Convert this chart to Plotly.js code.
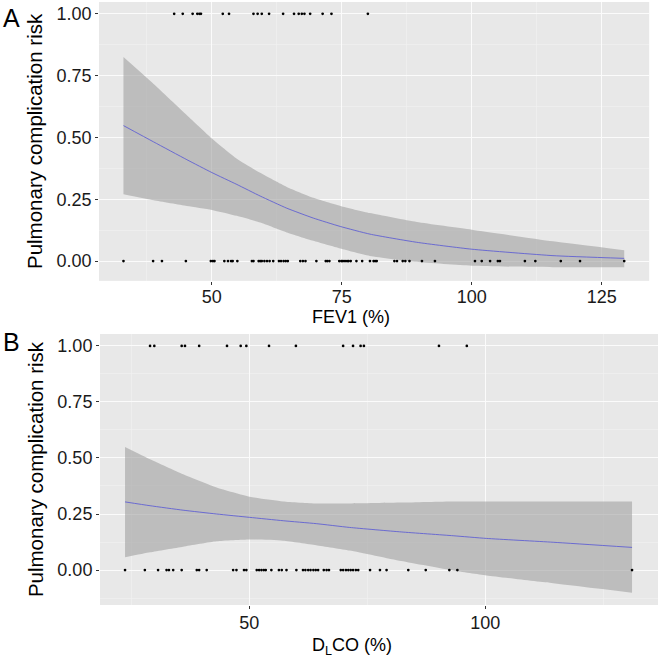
<!DOCTYPE html>
<html><head><meta charset="utf-8">
<script src="https://cdn.plot.ly/plotly-3.0.1.min.js"></script>
<style>html,body{margin:0;padding:0;background:#fff}</style>
</head><body><div id="chart" style="width:658px;height:661px"></div>
<script>
// ---- Panel A: FEV1 ----
const fev1CurveX = [33.0, 38.8, 45.2, 50.0, 54.8, 59.3, 64.4, 69.5, 74.7, 80.4, 89.4, 100.0, 115.6, 129.3];
const fev1Fit    = [0.548, 0.482, 0.410, 0.358, 0.310, 0.263, 0.214, 0.174, 0.140, 0.109, 0.076, 0.048, 0.022, 0.011];
const fev1Upper  = [0.825, 0.716, 0.590, 0.496, 0.414, 0.357, 0.300, 0.256, 0.223, 0.194, 0.158, 0.127, 0.080, 0.044];
const fev1Lower  = [0.270, 0.246, 0.223, 0.207, 0.183, 0.156, 0.116, 0.082, 0.051, 0.021, -0.003, -0.019, -0.025, -0.025];
const fev1Complication = [42.75, 44.4, 46.3, 47.2, 47.6, 47.9, 52.1, 53.3, 58.0, 58.8, 59.6, 61.0, 63.7, 65.8, 66.7, 67.3, 67.8, 68.9, 71.3, 73.0, 80.0];
const fev1NoComplication = [33.0, 38.7, 40.4, 45.0, 49.8, 50.2, 50.5, 52.4, 53.1, 53.7, 54.0, 54.9, 57.7, 58.0, 59.0, 59.3, 59.6, 60.1, 60.6, 61.1, 61.8, 62.9, 63.3, 63.8, 64.2, 64.6, 67.0, 67.5, 68.0, 70.1, 71.9, 72.2, 72.6, 74.5, 74.9, 75.2, 75.6, 76.0, 76.3, 76.7, 77.8, 78.9, 80.4, 81.1, 81.4, 81.7, 85.1, 85.6, 86.7, 87.2, 88.0, 90.4, 92.9, 100.6, 101.9, 103.5, 105.0, 105.4, 110.2, 112.2, 117.1, 120.8, 129.3];

// ---- Panel B: DLCO ----
const dlcoCurveX = [23.7, 29.0, 36.0, 43.1, 50.1, 57.2, 64.2, 71.3, 82.2, 93.2, 100.3, 114.4, 131.1];
const dlcoFit    = [0.304, 0.287, 0.267, 0.250, 0.235, 0.220, 0.207, 0.190, 0.170, 0.153, 0.141, 0.124, 0.101];
const dlcoUpper  = [0.549, 0.494, 0.427, 0.368, 0.327, 0.306, 0.297, 0.297, 0.301, 0.306, 0.306, 0.306, 0.306];
const dlcoLower  = [0.057, 0.079, 0.104, 0.128, 0.136, 0.131, 0.111, 0.087, 0.040, -0.002, -0.024, -0.059, -0.101];
const dlcoComplication = [29.0, 29.9, 35.7, 36.4, 39.4, 45.3, 48.2, 49.4, 54.2, 59.9, 69.9, 72.0, 73.6, 74.3, 90.2, 96.1];
const dlcoNoComplication = [23.7, 27.9, 30.7, 32.5, 33.0, 33.9, 35.7, 38.9, 39.4, 41.0, 46.6, 47.3, 48.9, 49.4, 51.6, 52.1, 52.6, 53.1, 53.5, 54.7, 56.3, 56.9, 57.9, 60.0, 61.4, 61.9, 62.5, 63.0, 63.6, 64.1, 64.6, 65.8, 66.4, 66.9, 69.4, 69.9, 70.5, 71.0, 71.5, 72.0, 72.6, 73.1, 75.6, 77.7, 79.1, 83.7, 87.4, 92.4, 94.1, 131.1];

const yTickLabels = ['0.00', '0.25', '0.50', '0.75', '1.00'];
const yTickVals = [0, 0.25, 0.5, 0.75, 1];
const yTitle = 'Pulmonary complication risk';
const xTitleA = 'FEV1 (%)';
const xTitleB = 'D<sub>L</sub>CO (%)';

const FONT = 'Liberation Sans, Arial, Helvetica, sans-serif';
const ribbon = 'rgba(153,153,153,0.55)';
const lineCol = '#6161d2';
const SM = 0.5;

function panel(xa, ya, cx, fit, up, lo, ev, noev) {
  return [
    {x: cx, y: lo, xaxis: xa, yaxis: ya, mode: 'lines', line: {width: 0, shape: 'spline', smoothing: SM}, hoverinfo: 'skip', showlegend: false},
    {x: cx, y: up, xaxis: xa, yaxis: ya, mode: 'lines', fill: 'tonexty', fillcolor: ribbon, line: {width: 0, shape: 'spline', smoothing: SM}, hoverinfo: 'skip', showlegend: false},
    {x: cx, y: fit, xaxis: xa, yaxis: ya, mode: 'lines', line: {color: lineCol, width: 0.9, shape: 'spline', smoothing: SM}, showlegend: false},
    {x: ev, y: ev.map(() => 1), xaxis: xa, yaxis: ya, mode: 'markers', marker: {size: 2.7, color: '#000'}, showlegend: false},
    {x: noev, y: noev.map(() => 0), xaxis: xa, yaxis: ya, mode: 'markers', marker: {size: 2.7, color: '#000'}, showlegend: false}
  ];
}

const data = [].concat(
  panel('x', 'y', fev1CurveX, fev1Fit, fev1Upper, fev1Lower, fev1Complication, fev1NoComplication),
  panel('x2', 'y2', dlcoCurveX, dlcoFit, dlcoUpper, dlcoLower, dlcoComplication, dlcoNoComplication)
);

const tickFont = {family: FONT, size: 18, color: '#1a1a1a'};
const yTitleFont = {family: FONT, size: 20.5, color: '#000'};
const xTitleFont = {family: FONT, size: 18, color: '#000'};
const gridMajor = {showgrid: true, gridcolor: '#fbfbfb', gridwidth: 1, zeroline: false, showline: false,
  ticks: 'outside', ticklen: 3, tickwidth: 1, tickcolor: '#333', tickfont: tickFont, automargin: false};

function yAxis(domain, range, anchor) {
  return Object.assign({}, gridMajor, {
    domain: domain, range: range, anchor: anchor,
    tickmode: 'array', tickvals: yTickVals, ticktext: yTickLabels,
    minor: {tickmode: 'linear', tick0: 0.125, dtick: 0.25, showgrid: true, gridcolor: '#f2f2f2', gridwidth: 0.6, ticks: ''},
    title: {text: yTitle, font: yTitleFont, standoff: 8}
  });
}

const layout = {
  width: 658, height: 661,
  margin: {l: 0, r: 0, t: 0, b: 0},
  paper_bgcolor: '#ffffff', plot_bgcolor: '#E8E8E8',
  showlegend: false,
  xaxis: Object.assign({}, gridMajor, {
    domain: [0.1505, 0.9866], range: [28.3, 134.1], anchor: 'y',
    tickmode: 'linear', tick0: 0, dtick: 25, ticklabelstandoff: -3,
    minor: {tickmode: 'linear', tick0: 12.5, dtick: 25, showgrid: true, gridcolor: '#f2f2f2', gridwidth: 0.6, ticks: ''}
  }),
  yaxis: yAxis([0.5751, 0.997], [-0.08, 1.048], 'x'),
  xaxis2: Object.assign({}, gridMajor, {
    domain: [0.152, 1.0], range: [18.4, 136.6], anchor: 'y2',
    tickmode: 'linear', tick0: 0, dtick: 50, ticklabelstandoff: -2,
    minor: {tickmode: 'linear', tick0: 25, dtick: 50, showgrid: true, gridcolor: '#f2f2f2', gridwidth: 0.6, ticks: ''}
  }),
  yaxis2: yAxis([0.0847, 0.4947], [-0.156, 1.053], 'x2'),
  annotations: [
    {text: 'A', xref: 'paper', yref: 'paper', x: 11 / 658, y: 1 - 18 / 661, xanchor: 'center', yanchor: 'middle', showarrow: false, font: {family: FONT, size: 25, color: '#000'}},
    {text: 'B', xref: 'paper', yref: 'paper', x: 11 / 658, y: 1 - 342 / 661, xanchor: 'center', yanchor: 'middle', showarrow: false, font: {family: FONT, size: 25, color: '#000'}},
    {text: xTitleA, xref: 'paper', yref: 'paper', x: 351 / 658, y: 1 - 317 / 661, xanchor: 'center', yanchor: 'middle', showarrow: false, font: xTitleFont},
    {text: xTitleB, xref: 'paper', yref: 'paper', x: 352 / 658, y: 1 - 646 / 661, xanchor: 'center', yanchor: 'middle', showarrow: false, font: xTitleFont}
  ]
};

Plotly.newPlot('chart', data, layout, {staticPlot: true, displayModeBar: false});
</script></body></html>
